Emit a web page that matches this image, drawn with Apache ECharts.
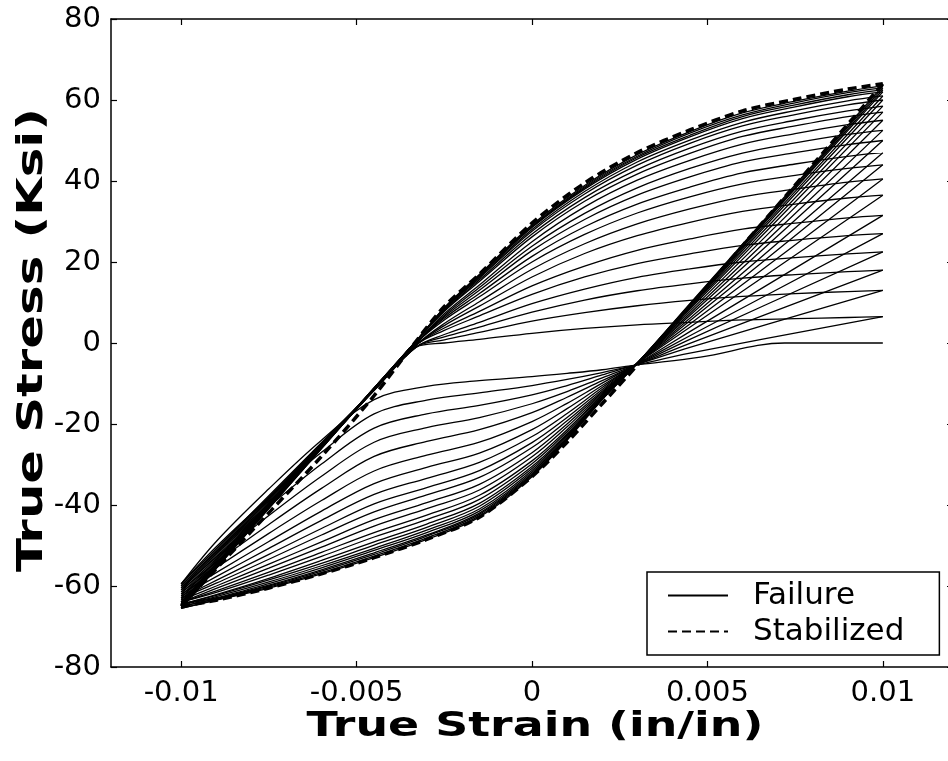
<!DOCTYPE html>
<html><head><meta charset="utf-8">
<script src="https://cdn.jsdelivr.net/npm/echarts@6/dist/echarts.min.js"></script>
<style>html,body{margin:0;padding:0;background:#fff}#c{width:948px;height:761px}</style>
</head><body><div id="c"></div>
<script>
// ---- tick values ----
const X_TICKS = [-0.01, -0.005, 0, 0.005, 0.01];

// ---- shared strain stations for failure-test branches ----
const STRAIN_UP = [-0.01, -0.0045, -0.0033, -0.0025, -0.0015, 0, 0.0015, 0.003, 0.0045, 0.006, 0.0075, 0.009, 0.01];
const STRAIN_DOWN = [0.01, 0.0045, 0.003, 0.002, 0.001, 0, -0.0015, -0.003, -0.0045, -0.006, -0.0075, -0.009, -0.01];

// ---- failure test: loading (strain increasing) branches, one row per cycle ----
const FAILURE_UP_STRESS = [
  [-65.5, -11.3, 0.5, 8.7, 16.9, 29.2, 38.9, 46.5, 52.2, 56.8, 59.7, 62.2, 63.5],
  [-65.5, -11.3, 0.5, 8.6, 16.8, 28.9, 38.6, 46.1, 51.8, 56.3, 59.3, 61.8, 63],
  [-65, -11.2, 0.5, 8.6, 16.6, 28.7, 38.3, 45.8, 51.3, 55.9, 58.8, 61.3, 62.5],
  [-65, -11.2, 0.5, 8.5, 16.5, 28.5, 38.0, 45.4, 50.9, 55.4, 58.3, 60.8, 62],
  [-64.5, -11.1, 0.5, 8.4, 16.2, 28.0, 37.4, 44.7, 50.1, 54.5, 57.4, 59.8, 61],
  [-64.5, -11.1, 0.5, 8.2, 16.0, 27.6, 36.8, 43.9, 49.3, 53.6, 56.4, 58.8, 60],
  [-64.5, -11.1, 0.5, 8.0, 15.6, 26.9, 35.9, 42.8, 48.1, 52.3, 55.0, 57.3, 58.5],
  [-64.5, -11.1, 0.5, 7.8, 15.2, 26.2, 35.0, 41.7, 46.8, 51.0, 53.6, 55.9, 57],
  [-64, -11.5, 0, 7.2, 14.3, 25.0, 33.6, 40.2, 45.1, 49.1, 51.7, 53.9, 55],
  [-64, -11.5, 0, 6.8, 13.7, 23.9, 32.0, 38.3, 43.1, 46.9, 49.4, 51.5, 52.5],
  [-64, -11.5, 0, 6.5, 13.0, 22.8, 30.5, 36.5, 41.0, 44.7, 47.0, 49.0, 50],
  [-63.5, -11.4, 0, 6.1, 12.2, 21.4, 28.7, 34.3, 38.5, 42.0, 44.2, 46.1, 47],
  [-63, -11.3, 0, 5.7, 11.4, 20.0, 26.8, 32.1, 36.1, 39.3, 41.4, 43.1, 44],
  [-63, -11.7, -0.5, 4.8, 10.2, 18.2, 24.5, 29.4, 33.1, 36.1, 38.0, 39.7, 40.5],
  [-62.5, -11.6, -0.5, 4.3, 9.1, 16.3, 22.1, 26.5, 29.8, 32.5, 34.3, 35.8, 36.5],
  [-62, -11.5, -0.5, 3.7, 7.8, 14.1, 19.0, 22.9, 25.7, 28.1, 29.6, 30.9, 31.5],
  [-61.5, -11.4, -0.5, 3.1, 6.7, 12.0, 16.3, 19.6, 22.0, 24.1, 25.4, 26.5, 27],
  [-61, -11.7, -1, 2.1, 5.1, 9.7, 13.3, 16.2, 18.3, 20.0, 21.1, 22.0, 22.5],
  [-60.5, -11.7, -1, 1.5, 3.9, 7.6, 10.6, 12.9, 14.6, 16.0, 16.9, 17.6, 18],
  [-60, -11.6, -1, 0.8, 2.6, 5.4, 7.5, 9.2, 10.5, 11.5, 12.2, 12.7, 13],
  [-59.5, -11.5, -1, 0, 0.9, 2.4, 3.6, 4.5, 5.1, 5.7, 6.0, 6.3, 6.5]
];

// ---- failure test: unloading (strain decreasing) branches, one row per cycle ----
const FAILURE_DOWN_STRESS = [
  [63.5, 9.7, -5, -14, -24, -33, -43, -48.5, -53, -57, -60.5, -63.5, -65.5],
  [63, 9.6, -5, -13.9, -23.8, -32.8, -42.7, -48.1, -52.6, -56.7, -60.3, -63.4, -65.5],
  [62.5, 9.4, -5, -13.9, -23.7, -32.5, -42.3, -47.7, -52.2, -56.3, -60.0, -63.2, -65],
  [62, 9.3, -5, -13.8, -23.5, -32.3, -42.0, -47.4, -51.8, -56.0, -59.8, -63.1, -65],
  [61, 9.1, -5, -13.7, -23.3, -31.9, -41.5, -46.8, -51.2, -55.5, -59.4, -62.9, -64.5],
  [60, 8.9, -5, -13.6, -23.0, -31.5, -41.0, -46.2, -50.7, -55.0, -59.0, -62.6, -64.5],
  [58.5, 8.6, -5, -13.4, -22.7, -31.0, -40.3, -45.5, -49.9, -54.4, -58.5, -62.3, -64.5],
  [57, 8.3, -5, -13.3, -22.4, -30.5, -39.6, -44.7, -49.1, -53.7, -58.1, -62.1, -64.5],
  [55, 7.8, -5, -13.0, -21.9, -29.8, -38.6, -43.6, -47.9, -52.7, -57.3, -61.6, -64],
  [52.5, 7.3, -5, -12.8, -21.4, -29.1, -37.6, -42.5, -46.8, -51.7, -56.6, -61.2, -64],
  [50, 6.8, -5, -12.5, -20.7, -28.1, -36.3, -40.9, -45.2, -50.4, -55.6, -60.6, -64],
  [47, 6.1, -5, -12.2, -20.0, -27.1, -34.9, -39.4, -43.6, -49.1, -54.6, -60.0, -63.5],
  [44, 5.5, -5, -11.9, -19.2, -25.8, -33.2, -37.5, -41.7, -47.4, -53.4, -59.3, -63],
  [40.5, 4.7, -5, -11.5, -18.4, -24.6, -31.5, -35.7, -39.7, -45.8, -52.2, -58.6, -63],
  [36.5, 3.9, -5, -11.0, -17.4, -23.1, -29.5, -33.4, -37.4, -43.8, -50.7, -57.7, -62.5],
  [31.5, 2.8, -5.2, -10.5, -16.2, -21.4, -27.2, -30.7, -34.7, -41.5, -49.0, -56.7, -62],
  [27, 1.8, -5.2, -9.9, -14.9, -19.4, -24.5, -27.7, -31.6, -38.9, -47.0, -55.5, -61.5],
  [22.5, 0.9, -5.3, -9.3, -13.4, -17.2, -21.4, -24.3, -28.0, -35.9, -44.8, -54.2, -61],
  [18, -0.1, -5.3, -8.6, -12.0, -15.0, -18.4, -20.9, -24.5, -32.9, -42.6, -52.9, -60.5],
  [13, -1.1, -5.3, -7.9, -10.5, -12.8, -15.4, -17.5, -21.0, -29.9, -40.4, -51.6, -60],
  [6.5, -2.5, -5.4, -7.3, -9.0, -10.5, -12.3, -14.1, -17.5, -27.0, -38.2, -50.3, -59.5]
];

// ---- failure test: last loading branch (ends at failure) ----
const FINAL_STRAIN = [-0.01, -0.009, -0.0075, -0.006, -0.0045, -0.003, -0.0015, 0, 0.001, 0.002, 0.003, 0.0048, 0.0072, 0.0085, 0.01];
const FINAL_STRESS = [-59.5, -49, -36, -24, -14, -10.7, -9.3, -8.3, -7.5, -6.6, -5.4, -3.5, 0, 0, 0];

// ---- stabilized loop ----
const STAB_UP_STRAIN = [-0.01, -0.008, -0.006, -0.0045, -0.0033, -0.0025, -0.0015, 0, 0.0015, 0.003, 0.0045, 0.006, 0.0075, 0.009, 0.01];
const STAB_UP_STRESS = [-65, -46.5, -28, -13, 0.5, 9, 17, 29.6, 39.5, 47, 52.6, 57.3, 60.2, 62.7, 64];
const STAB_DOWN_STRAIN = [0.01, 0.008, 0.006, 0.0045, 0.003, 0.002, 0.001, 0, -0.0015, -0.003, -0.0045, -0.006, -0.0075, -0.009, -0.01];
const STAB_DOWN_STRESS = [64, 44, 24, 9, -5.5, -15, -24.5, -33, -43, -48.5, -53, -57, -60.5, -63.5, -65];

function pairs(xs, ys) { return xs.map((x, i) => [x, ys[i]]); }

const FONT = 'DejaVu Sans';
const series = [];
function failure(data) {
  return { name: 'Failure', type: 'line', data, symbol: 'none', showSymbol: false, smooth: 0.35,
    silent: true, z: 2, itemStyle: { color: '#000' }, lineStyle: { color: '#000', width: 1.3 } };
}
FAILURE_UP_STRESS.forEach(ys => series.push(failure(pairs(STRAIN_UP, ys))));
FAILURE_DOWN_STRESS.forEach(ys => series.push(failure(pairs(STRAIN_DOWN, ys))));
series.push(failure(pairs(FINAL_STRAIN, FINAL_STRESS)));
function stab(data) {
  return { name: 'Stabilized', type: 'line', data, symbol: 'none', showSymbol: false, smooth: 0.3,
    silent: true, z: 3, itemStyle: { color: '#000' }, lineStyle: { color: '#000', width: 3.5, type: [9, 5] } };
}
series.push(stab(pairs(STAB_UP_STRAIN, STAB_UP_STRESS)));
series.push(stab(pairs(STAB_DOWN_STRAIN, STAB_DOWN_STRESS)));

const axisLine = { show: true, onZero: false, lineStyle: { color: '#000', width: 1.5 } };
const tick = { show: true, inside: true, length: 6, lineStyle: { color: '#000', width: 1.2 } };
const label = { fontFamily: FONT, fontSize: 29, color: '#000' };

const chart = echarts.init(document.getElementById('c'), null, { renderer: 'canvas' });
chart.setOption({
  animation: false,
  backgroundColor: '#fff',
  grid: { left: 111, top: 19, width: 842, height: 648, containLabel: false, outerBoundsMode: 'none' },
  xAxis: [
    { type: 'value', min: -0.012, max: 0.012, position: 'bottom', axisLine,
      axisTick: Object.assign({ customValues: X_TICKS }, tick),
      axisLabel: Object.assign({ customValues: X_TICKS, margin: 12 }, label),
      splitLine: { show: false } },
    { type: 'value', min: -0.012, max: 0.012, position: 'top', axisLine,
      axisTick: Object.assign({ customValues: X_TICKS }, tick),
      axisLabel: { show: false }, splitLine: { show: false } }
  ],
  yAxis: [
    { type: 'value', min: -80, max: 80, interval: 20, position: 'left', axisLine, axisTick: tick,
      axisLabel: Object.assign({ margin: 10 }, label), splitLine: { show: false } },
    { type: 'value', min: -80, max: 80, interval: 20, position: 'right', axisLine, axisTick: tick,
      axisLabel: { show: false }, splitLine: { show: false } }
  ],
  legend: {
    left: 647, top: 572, orient: 'vertical', selectedMode: false,
    data: ['Failure', 'Stabilized'],
    itemWidth: 60, itemHeight: 14, itemGap: 5,
    padding: [8, 35, 8, 20],
    itemStyle: { opacity: 0 },
    backgroundColor: '#fff', borderColor: '#000', borderWidth: 1.5, borderRadius: 0,
    textStyle: { fontFamily: FONT, fontSize: 31, color: '#000', padding: [0, 0, 0, 20] }
  },
  graphic: [
    { type: 'text', x: 535, y: 727, scaleX: 1.39, silent: true,
      style: { text: 'True Strain (in/in)', fontFamily: FONT, fontWeight: 'bold', fontSize: 33,
        fill: '#000', align: 'center', verticalAlign: 'middle' } },
    { type: 'text', x: 33, y: 340, rotation: Math.PI / 2, scaleX: 1.42, silent: true,
      style: { text: 'True Stress (Ksi)', fontFamily: FONT, fontWeight: 'bold', fontSize: 35,
        fill: '#000', align: 'center', verticalAlign: 'middle' } }
  ],
  series
});
</script></body></html>
